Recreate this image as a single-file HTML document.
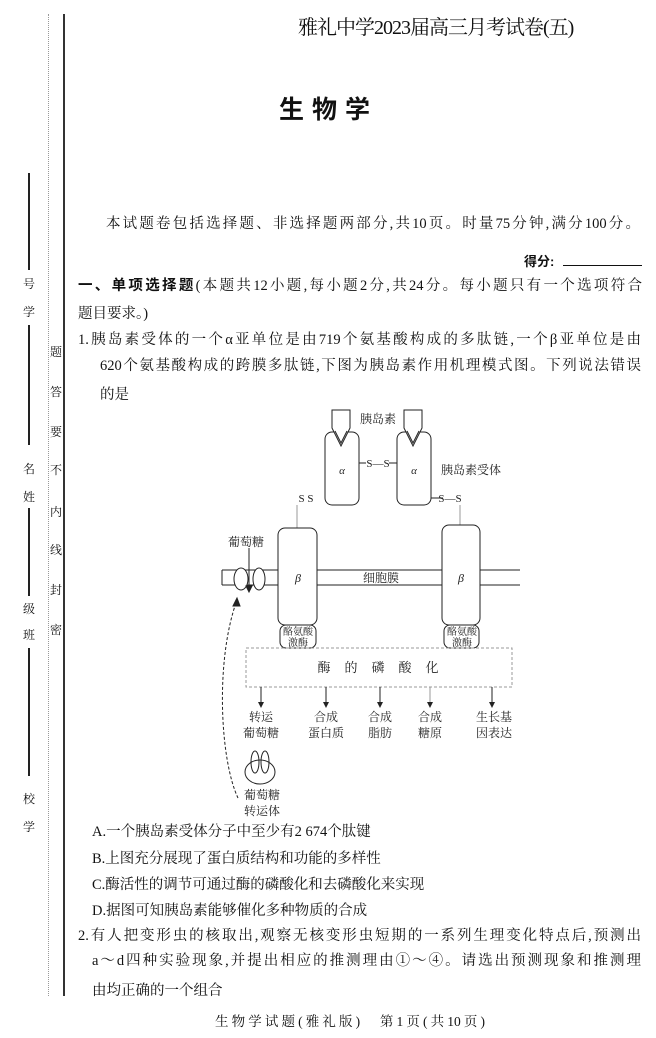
<!DOCTYPE html>
<html><head><meta charset="utf-8"><style>
body{margin:0;width:656px;height:1038px;background:#fff;position:relative;overflow:hidden;font-family:"Liberation Serif","Noto Serif CJK SC",serif;color:#111}
.a{position:absolute;white-space:nowrap}
.j{position:absolute;white-space:nowrap;text-align:justify;text-align-last:justify;font-size:14.5px;line-height:18px}
.s{position:absolute;font-size:12px;width:14px;text-align:center;line-height:14px}
.v{position:absolute;width:2px;background:#222}
svg text{font-family:"Liberation Serif","Noto Serif CJK SC",serif}
</style></head><body>
<div class="a" style="left:63px;top:14px;width:2px;height:982px;background:#333"></div>
<div class="a" style="left:48px;top:14px;height:982px;border-left:1px dotted #999"></div>
<div class="v" style="left:28px;top:173px;height:97px"></div>
<div class="v" style="left:28px;top:325px;height:120px"></div>
<div class="v" style="left:28px;top:508px;height:88px"></div>
<div class="v" style="left:28px;top:648px;height:128px"></div>
<div class="s" style="left:22px;top:277px">号</div>
<div class="s" style="left:22px;top:305px">学</div>
<div class="s" style="left:22px;top:462px">名</div>
<div class="s" style="left:22px;top:490px">姓</div>
<div class="s" style="left:22px;top:602px">级</div>
<div class="s" style="left:22px;top:628px">班</div>
<div class="s" style="left:22px;top:792px">校</div>
<div class="s" style="left:22px;top:820px">学</div>
<div class="s" style="left:49px;top:345px">题</div>
<div class="s" style="left:49px;top:385px">答</div>
<div class="s" style="left:49px;top:425px">要</div>
<div class="s" style="left:49px;top:463px">不</div>
<div class="s" style="left:49px;top:505px">内</div>
<div class="s" style="left:49px;top:543px">线</div>
<div class="s" style="left:49px;top:583px">封</div>
<div class="s" style="left:49px;top:623px">密</div>

<div class="a" style="left:298px;top:14px;font-size:20px;line-height:28px;width:267px;text-align:justify;text-align-last:justify;letter-spacing:-1px">雅礼中学2023届高三月考试卷(五)</div>
<div class="a" style="left:279px;top:90px;font-size:25px;font-weight:bold;font-family:'Liberation Sans','Noto Sans CJK SC',sans-serif;letter-spacing:8px">生物学</div>
<div class="j" style="left:106px;top:215px;width:534px">本试题卷包括选择题、非选择题两部分,共10页。时量75分钟,满分100分。</div>
<div class="a" style="left:524px;top:251px;font-size:13px;font-weight:bold;font-family:'Liberation Sans','Noto Sans CJK SC',sans-serif">得分:</div>
<div class="a" style="left:563px;top:265px;width:79px;height:1px;background:#111"></div>
<div class="j" style="left:78px;top:277px;width:564px"><b style="font-family:'Liberation Sans','Noto Sans CJK SC',sans-serif">一、单项选择题</b>(本题共12小题,每小题2分,共24分。每小题只有一个选项符合</div>
<div class="a" style="left:78px;top:302px;font-size:14.5px">题目要求。)</div>
<div class="j" style="left:78px;top:331px;width:563px">1.胰岛素受体的一个α亚单位是由719个氨基酸构成的多肽链,一个β亚单位是由</div>
<div class="j" style="left:100px;top:357px;width:541px">620个氨基酸构成的跨膜多肽链,下图为胰岛素作用机理模式图。下列说法错误</div>
<div class="a" style="left:100px;top:383px;font-size:14.5px">的是</div>

<svg class="a" style="left:0;top:0" width="656" height="1038" viewBox="0 0 656 1038">
<g fill="#fff" stroke="#222" stroke-width="1">
<rect x="325" y="432" width="34" height="73" rx="7"/>
<rect x="397" y="432" width="34" height="73" rx="7"/>
<path d="M332 410 H350 V428 L341 446 L332 428 Z"/>
<path d="M404 410 H422 V428 L413 446 L404 428 Z"/>
<path d="M335 431 L341 443 L347 431" fill="none"/>
<path d="M407 431 L413 443 L419 431" fill="none"/>
<line x1="359" y1="463" x2="366" y2="463"/>
<line x1="389" y1="463" x2="397" y2="463"/>
<line x1="431" y1="498" x2="443" y2="498"/>
<line x1="460" y1="505" x2="460" y2="525" stroke="#999"/>
<line x1="297" y1="505" x2="297" y2="528" stroke="#999"/>
<path d="M222 570 H520 M222 585 H520 M222 570 V585" fill="none"/>
<rect x="278" y="528" width="39" height="97" rx="7"/>
<rect x="442" y="525" width="38" height="100" rx="7"/>
<rect x="280" y="625" width="36" height="23" rx="6"/>
<rect x="444" y="625" width="35" height="23" rx="6"/>
<ellipse cx="241" cy="579" rx="7" ry="11"/>
<ellipse cx="259" cy="579" rx="6" ry="11"/>
<line x1="249" y1="548" x2="249" y2="590"/>
<path d="M246 586 L249 592 L252 586 Z" fill="#222"/>
<rect x="246" y="648" width="266" height="39" fill="none" stroke="#999" stroke-dasharray="3,2"/>
<ellipse cx="260" cy="772" rx="15" ry="12"/>
<ellipse cx="255" cy="762" rx="4" ry="11" fill="none"/>
<ellipse cx="265" cy="762" rx="4" ry="11" fill="none"/>
<path d="M238 798 C220 760 215 660 237 600" fill="none" stroke-dasharray="3,2"/>
<path d="M233 606 L237 598 L240 606 Z" fill="#222"/>
</g>
<g stroke="#222">
<line x1="261" y1="687" x2="261" y2="704"/>
<line x1="326" y1="687" x2="326" y2="704"/>
<line x1="380" y1="687" x2="380" y2="704"/>
<line x1="430" y1="687" x2="430" y2="704" stroke="#999"/>
<line x1="492" y1="687" x2="492" y2="704"/>
</g>
<g fill="#222">
<path d="M258 702 L261 708 L264 702Z"/>
<path d="M323 702 L326 708 L329 702Z"/>
<path d="M377 702 L380 708 L383 702Z"/>
<path d="M427 702 L430 708 L433 702Z"/>
<path d="M489 702 L492 708 L495 702Z"/>
</g>
<g font-size="12" fill="#222" text-anchor="middle">
<text x="378" y="423">胰岛素</text>
<text x="342" y="474" font-style="italic" font-size="11">α</text>
<text x="414" y="474" font-style="italic" font-size="11">α</text>
<text x="378" y="467" font-size="11">S—S</text>
<text x="471" y="474">胰岛素受体</text>
<text x="450" y="502" font-size="11">S—S</text>
<text x="306" y="502" font-size="11">S  S</text>
<text x="246" y="546">葡萄糖</text>
<text x="298" y="582" font-style="italic">β</text>
<text x="461" y="582" font-style="italic">β</text>
<text x="381" y="582">细胞膜</text>
<text x="298" y="635" font-size="10">酪氨酸</text>
<text x="298" y="646" font-size="10">激酶</text>
<text x="462" y="635" font-size="10">酪氨酸</text>
<text x="462" y="646" font-size="10">激酶</text>
<text x="385" y="672" font-size="13" letter-spacing="14">酶的磷酸化</text>
<text x="261" y="721">转运</text><text x="261" y="737">葡萄糖</text>
<text x="326" y="721">合成</text><text x="326" y="737">蛋白质</text>
<text x="380" y="721">合成</text><text x="380" y="737">脂肪</text>
<text x="430" y="721">合成</text><text x="430" y="737">糖原</text>
<text x="494" y="721">生长基</text><text x="494" y="737">因表达</text>
<text x="262" y="799">葡萄糖</text><text x="262" y="815">转运体</text>
</g>
</svg>

<div class="a" style="left:92px;top:820px;font-size:14.5px">A.一个胰岛素受体分子中至少有2 674个肽键</div>
<div class="a" style="left:92px;top:847px;font-size:14.5px">B.上图充分展现了蛋白质结构和功能的多样性</div>
<div class="a" style="left:92px;top:873px;font-size:14.5px">C.酶活性的调节可通过酶的磷酸化和去磷酸化来实现</div>
<div class="a" style="left:92px;top:899px;font-size:14.5px">D.据图可知胰岛素能够催化多种物质的合成</div>
<div class="j" style="left:78px;top:927px;width:563px">2.有人把变形虫的核取出,观察无核变形虫短期的一系列生理变化特点后,预测出</div>
<div class="j" style="left:92px;top:952px;width:549px">a～d四种实验现象,并提出相应的推测理由①～④。请选出预测现象和推测理</div>
<div class="a" style="left:92px;top:979px;font-size:14.5px">由均正确的一个组合</div>
<div class="a" style="left:215px;top:1010px;font-size:13.5px;width:270px;text-align:justify;text-align-last:justify">生物学试题(雅礼版)　第1页(共10页)</div>
</body></html>
